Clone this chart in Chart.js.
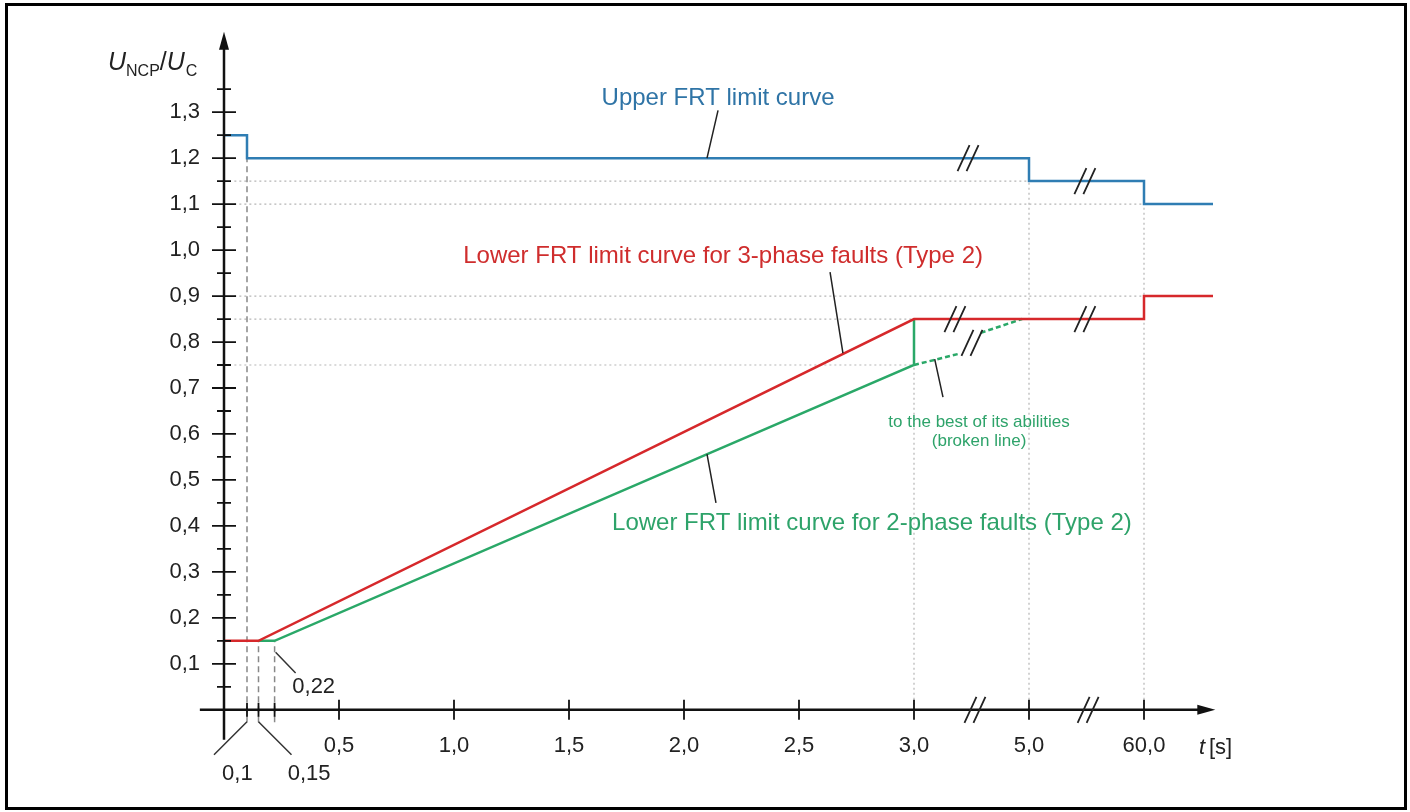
<!DOCTYPE html>
<html>
<head>
<meta charset="utf-8">
<script src="https://cdn.jsdelivr.net/npm/chart.js@4.4.0/dist/chart.umd.min.js"></script>
<style>
  html, body { margin: 0; padding: 0; background: #fff; }
  #wrap { width: 1410px; height: 812px; position: relative; }
</style>
</head>
<body>
<div id="wrap"><canvas id="frtChart"></canvas></div>
<script>
// x is the drawn position: 0..3 are seconds, 3.5 stands for 5,0 s and 4.0 for 60,0 s
const upperX = [0, 0.1, 0.1, 3.5, 3.5, 4.0, 4.0, 4.3];
const upperY = [1.25, 1.25, 1.2, 1.2, 1.15, 1.15, 1.1, 1.1];

const lower3X = [0, 0.15, 3.0, 4.0, 4.0, 4.3];
const lower3Y = [0.15, 0.15, 0.85, 0.85, 0.9, 0.9];

const lower2X = [0.15, 0.22, 3.0, 3.0];
const lower2Y = [0.15, 0.15, 0.75, 0.85];

const brokenX = [3.0, 3.2, 3.25, 3.29, 3.47];
const brokenY = [0.75, 0.775, null, 0.82, 0.85];

const xTickPos = [0.5, 1.0, 1.5, 2.0, 2.5, 3.0, 3.5, 4.0];
const xTickLabels = ['0,5', '1,0', '1,5', '2,0', '2,5', '3,0', '5,0', '60,0'];
const yTickPos = [0.1, 0.2, 0.3, 0.4, 0.5, 0.6, 0.7, 0.8, 0.9, 1.0, 1.1, 1.2, 1.3];
const yTickLabels = ['0,1', '0,2', '0,3', '0,4', '0,5', '0,6', '0,7', '0,8', '0,9', '1,0', '1,1', '1,2', '1,3'];

// marked instants near the start (dashed drops)
const markX = [0.1, 0.15, 0.22];
const markTop = [1.2, 0.15, 0.15];

// dotted guide lines
const hGuideY = [1.15, 1.1, 0.9, 0.85, 0.75];
const hGuideEnd = [3.5, 4.0, 4.0, 3.0, 3.0];
const vGuideX = [3.0, 3.5, 4.0];
const vGuideTop = [0.85, 1.15, 1.1];

const BLUE = '#2f7db3';
const RED = '#d6282b';
const GREEN = '#2aa868';
const FONT = '"Liberation Sans", Arial, sans-serif';

function pts(xs, ys) {
  return xs.map((x, i) => ({ x: x, y: ys[i] }));
}

const datasets = [];
hGuideY.forEach((y, i) => {
  datasets.push({
    data: [{ x: 0.045, y: y }, { x: hGuideEnd[i], y: y }],
    borderColor: '#b5b5b5', borderWidth: 1.2, borderDash: [2, 3], order: 10
  });
});
vGuideX.forEach((x, i) => {
  datasets.push({
    data: [{ x: x, y: 0 }, { x: x, y: vGuideTop[i] }],
    borderColor: '#b5b5b5', borderWidth: 1.2, borderDash: [2, 3], order: 10
  });
});
markX.forEach((x, i) => {
  datasets.push({
    data: [{ x: x, y: -0.027 }, { x: x, y: markTop[i] }],
    borderColor: '#888', borderWidth: 1.5, borderDash: [6, 4], order: 9
  });
});
datasets.push({ data: pts(brokenX, brokenY), borderColor: GREEN, borderWidth: 2.5, borderDash: [5, 3], spanGaps: false, order: 3 });
datasets.push({ data: pts(lower2X, lower2Y), borderColor: GREEN, borderWidth: 2.5, order: 2 });
datasets.push({ data: pts(lower3X, lower3Y), borderColor: RED, borderWidth: 2.5, order: 1 });
datasets.push({ data: pts(upperX, upperY), borderColor: BLUE, borderWidth: 2.5, order: 0 });

// break marks "//" on curves and on the time axis
const breakMarks = [[3.235, 1.2], [3.743, 1.15], [3.178, 0.85], [3.743, 0.85], [3.252, 0.798], [3.265, 0], [3.757, 0]];

const drawing = {
  id: 'drawing',
  beforeDraw(chart) {
    const c = chart.ctx;
    c.save();
    c.fillStyle = '#fff';
    c.fillRect(0, 0, chart.width, chart.height);
    c.strokeStyle = '#000';
    c.lineWidth = 3;
    c.strokeRect(6.5, 4.5, 1399, 804);
    c.restore();
  },
  afterDatasetsDraw(chart) {
    const c = chart.ctx;
    const xs = chart.scales.x, ys = chart.scales.y;
    const px = v => xs.getPixelForValue(v);
    const py = v => ys.getPixelForValue(v);
    const x0 = px(0), y0 = py(0);
    c.save();

    // axes
    c.strokeStyle = '#111';
    c.fillStyle = '#111';
    c.lineWidth = 2.5;
    c.beginPath();
    c.moveTo(x0, py(-0.065)); c.lineTo(x0, py(1.44));
    c.moveTo(px(-0.105), y0); c.lineTo(px(4.25), y0);
    c.stroke();
    c.beginPath();
    c.moveTo(x0, py(1.475)); c.lineTo(x0 - 5, py(1.475) + 18); c.lineTo(x0 + 5, py(1.475) + 18); c.closePath();
    c.fill();
    c.beginPath();
    c.moveTo(px(4.31), y0); c.lineTo(px(4.31) - 18, y0 - 5); c.lineTo(px(4.31) - 18, y0 + 5); c.closePath();
    c.fill();

    // ticks
    c.lineWidth = 1.8;
    c.beginPath();
    for (let k = 1; k <= 27; k++) {
      const v = k * 0.05;
      const major = k % 2 === 0;
      const h = major ? 12 : 7;
      c.moveTo(x0 - h, py(v)); c.lineTo(x0 + h, py(v));
    }
    xTickPos.forEach(v => { c.moveTo(px(v), y0 - 10); c.lineTo(px(v), y0 + 10); });
    markX.forEach(v => { c.moveTo(px(v), y0 - 7); c.lineTo(px(v), y0 + 7); });
    c.stroke();

    // break marks
    c.lineWidth = 1.8;
    c.strokeStyle = '#222';
    c.beginPath();
    breakMarks.forEach(([bx, by]) => {
      const cx = px(bx), cy = py(by);
      [-4.5, 4.5].forEach(d => {
        c.moveTo(cx + d - 6, cy + 13); c.lineTo(cx + d + 6, cy - 13);
      });
    });
    c.stroke();

    // tick labels
    c.fillStyle = '#222';
    c.font = '22px ' + FONT;
    c.textAlign = 'right';
    c.textBaseline = 'middle';
    yTickPos.forEach((v, i) => c.fillText(yTickLabels[i], x0 - 24, py(v)));
    c.textAlign = 'center';
    xTickPos.forEach((v, i) => c.fillText(xTickLabels[i], px(v), y0 + 36));
    c.fillText('0,1', px(0.058), y0 + 64);
    c.fillText('0,15', px(0.37), y0 + 64);
    c.fillText('0,22', px(0.39), py(0.05));

    // leaders for marked instants
    c.strokeStyle = '#333';
    c.lineWidth = 1.5;
    c.beginPath();
    c.moveTo(px(0.1), y0 + 12); c.lineTo(px(0.1) - 33, y0 + 45);
    c.moveTo(px(0.15), y0 + 12); c.lineTo(px(0.15) + 33, y0 + 45);
    c.moveTo(px(0.22) + 1, py(0.125)); c.lineTo(px(0.22) + 21, py(0.08));
    c.stroke();

    // axis titles
    c.textAlign = 'left';
    c.textBaseline = 'alphabetic';
    let tx = 108;
    const ty = 70;
    c.font = 'italic 25px ' + FONT; c.fillText('U', tx, ty); tx += c.measureText('U').width;
    c.font = '16px ' + FONT; c.fillText('NCP', tx, ty + 6); tx += c.measureText('NCP').width;
    c.font = '25px ' + FONT; c.fillText('/', tx, ty); tx += c.measureText('/').width;
    c.font = 'italic 25px ' + FONT; c.fillText('U', tx, ty); tx += c.measureText('U').width;
    c.font = '16px ' + FONT; c.fillText('C', tx + 1, ty + 6);

    c.textBaseline = 'middle';
    c.font = 'italic 22px ' + FONT; c.fillText('t', 1199, y0 + 38);
    c.font = '22px ' + FONT; c.fillText('[s]', 1209, y0 + 38);

    // curve labels
    c.textAlign = 'center';
    c.font = '24px ' + FONT;
    c.fillStyle = '#2f74a6';
    c.fillText('Upper FRT limit curve', px(2.148), py(1.33));
    c.fillStyle = '#cf2d2d';
    c.fillText('Lower FRT limit curve for 3-phase faults (Type 2)', px(2.17), py(0.987));
    c.fillStyle = '#2ea36a';
    c.fillText('Lower FRT limit curve for 2-phase faults (Type 2)', px(2.817), py(0.4065));
    c.font = '17px ' + FONT;
    c.fillText('to the best of its abilities', px(3.283), py(0.626));
    c.fillText('(broken line)', px(3.283), py(0.583));

    // label leaders
    c.strokeStyle = '#222';
    c.lineWidth = 1.5;
    c.beginPath();
    c.moveTo(px(2.148), py(1.304)); c.lineTo(px(2.1), py(1.2));
    c.moveTo(px(2.635), py(0.952)); c.lineTo(px(2.691), py(0.776));
    c.moveTo(px(2.1), py(0.556)); c.lineTo(px(2.139), py(0.45));
    c.moveTo(px(3.09), py(0.763)); c.lineTo(px(3.126), py(0.68));
    c.stroke();

    c.restore();
  }
};

new Chart(document.getElementById('frtChart').getContext('2d'), {
  type: 'line',
  data: { datasets: datasets },
  options: {
    responsive: true,
    maintainAspectRatio: false,
    animation: false,
    layout: { padding: { left: 201, right: 197, top: 34, bottom: 70 } },
    elements: { point: { radius: 0 }, line: { tension: 0, fill: false } },
    plugins: { legend: { display: false }, tooltip: { enabled: false } },
    scales: {
      x: { type: 'linear', min: -0.1, max: 4.3, display: false },
      y: { type: 'linear', min: -0.07, max: 1.47, display: false }
    }
  },
  plugins: [drawing]
});
</script>
</body>
</html>
